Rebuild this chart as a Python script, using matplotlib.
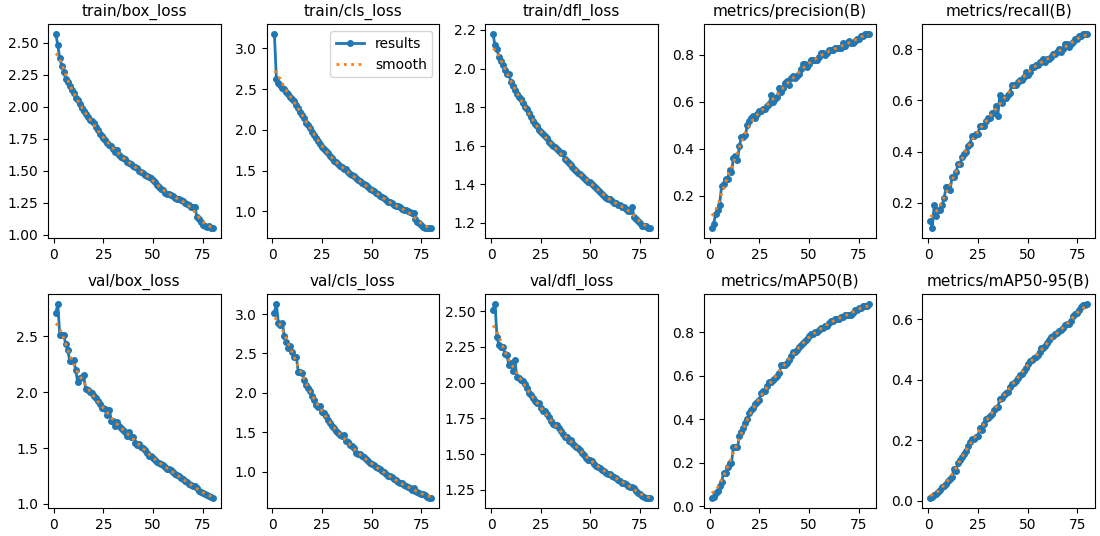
import numpy as np
import matplotlib
matplotlib.use("Agg")
import matplotlib.pyplot as plt

epochs = list(range(1, 81))

train_box_loss = [2.57, 2.48, 2.38, 2.32, 2.27, 2.22, 2.19, 2.16, 2.13, 2.11,
                  2.07, 2.05, 2.02, 1.99, 1.97, 1.94, 1.92, 1.90, 1.89, 1.87,
                  1.84, 1.82, 1.79, 1.77, 1.76, 1.74, 1.72, 1.70, 1.69, 1.67,
                  1.65, 1.66, 1.62, 1.61, 1.60, 1.59, 1.57, 1.56, 1.55, 1.54,
                  1.53, 1.52, 1.50, 1.49, 1.48, 1.47, 1.46, 1.45, 1.44, 1.43,
                  1.41, 1.39, 1.37, 1.36, 1.35, 1.33, 1.32, 1.32, 1.31, 1.30,
                  1.29, 1.28, 1.28, 1.27, 1.26, 1.25, 1.24, 1.23, 1.22, 1.22,
                  1.22, 1.14, 1.12, 1.10, 1.08, 1.07, 1.06, 1.07, 1.05, 1.05]

train_cls_loss = [3.18, 2.62, 2.58, 2.55, 2.52, 2.50, 2.47, 2.44, 2.41, 2.38,
                  2.36, 2.31, 2.27, 2.22, 2.18, 2.14, 2.09, 2.06, 2.02, 1.98,
                  1.94, 1.90, 1.86, 1.83, 1.79, 1.76, 1.74, 1.71, 1.68, 1.65,
                  1.62, 1.60, 1.58, 1.56, 1.54, 1.52, 1.52, 1.48, 1.46, 1.44,
                  1.43, 1.41, 1.39, 1.37, 1.35, 1.34, 1.32, 1.30, 1.27, 1.26,
                  1.25, 1.23, 1.21, 1.19, 1.18, 1.16, 1.14, 1.12, 1.11, 1.10,
                  1.08, 1.06, 1.06, 1.05, 1.03, 1.02, 1.01, 1.00, 0.99, 0.98,
                  0.98, 0.90, 0.87, 0.85, 0.83, 0.81, 0.80, 0.80, 0.79, 0.79]

train_dfl_loss = [2.18, 2.12, 2.10, 2.06, 2.04, 2.02, 1.99, 1.97, 1.97, 1.93,
                  1.91, 1.89, 1.87, 1.85, 1.84, 1.82, 1.80, 1.79, 1.77, 1.75,
                  1.73, 1.71, 1.70, 1.68, 1.67, 1.66, 1.65, 1.64, 1.62, 1.61,
                  1.60, 1.59, 1.58, 1.57, 1.56, 1.56, 1.53, 1.52, 1.51, 1.50,
                  1.49, 1.48, 1.47, 1.46, 1.45, 1.44, 1.43, 1.42, 1.41, 1.41,
                  1.40, 1.39, 1.38, 1.37, 1.36, 1.35, 1.34, 1.33, 1.32, 1.32,
                  1.31, 1.30, 1.30, 1.29, 1.29, 1.28, 1.28, 1.27, 1.26, 1.26,
                  1.28, 1.23, 1.22, 1.21, 1.20, 1.18, 1.18, 1.18, 1.17, 1.17]

precision = [0.06, 0.08, 0.12, 0.14, 0.16, 0.24, 0.25, 0.27, 0.27, 0.31,
             0.30, 0.36, 0.37, 0.35, 0.41, 0.45, 0.45, 0.46, 0.50, 0.52,
             0.53, 0.54, 0.53, 0.55, 0.56, 0.56, 0.57, 0.57, 0.58, 0.59,
             0.63, 0.60, 0.61, 0.62, 0.66, 0.64, 0.66, 0.68, 0.69, 0.67,
             0.70, 0.71, 0.70, 0.71, 0.72, 0.74, 0.76, 0.76, 0.75, 0.76,
             0.78, 0.78, 0.78, 0.78, 0.79, 0.81, 0.81, 0.80, 0.81, 0.82,
             0.82, 0.82, 0.83, 0.83, 0.83, 0.83, 0.85, 0.84, 0.85, 0.86,
             0.85, 0.85, 0.86, 0.87, 0.87, 0.88, 0.88, 0.89, 0.89, 0.89]

recall = [0.13, 0.10, 0.19, 0.15, 0.17, 0.17, 0.19, 0.22, 0.26, 0.26,
          0.25, 0.30, 0.30, 0.32, 0.35, 0.35, 0.38, 0.39, 0.40, 0.42,
          0.43, 0.46, 0.46, 0.47, 0.47, 0.50, 0.50, 0.50, 0.52, 0.53,
          0.53, 0.55, 0.55, 0.58, 0.54, 0.62, 0.59, 0.61, 0.61, 0.62,
          0.63, 0.66, 0.66, 0.66, 0.67, 0.68, 0.68, 0.69, 0.71, 0.70,
          0.71, 0.73, 0.73, 0.74, 0.74, 0.75, 0.75, 0.76, 0.75, 0.76,
          0.76, 0.77, 0.78, 0.78, 0.79, 0.80, 0.79, 0.80, 0.82, 0.82,
          0.81, 0.82, 0.83, 0.84, 0.84, 0.85, 0.85, 0.86, 0.86, 0.86]

val_box_loss = [2.71, 2.79, 2.51, 2.51, 2.51, 2.43, 2.38, 2.28, 2.28, 2.29,
                2.20, 2.09, 2.13, 2.14, 2.15, 2.03, 2.02, 2.00, 1.99, 1.97,
                1.95, 1.92, 1.89, 1.86, 1.86, 1.85, 1.80, 1.84, 1.74, 1.74,
                1.70, 1.73, 1.70, 1.68, 1.66, 1.64, 1.61, 1.64, 1.60, 1.60,
                1.55, 1.53, 1.54, 1.51, 1.50, 1.48, 1.46, 1.43, 1.43, 1.41,
                1.39, 1.38, 1.37, 1.36, 1.35, 1.33, 1.31, 1.31, 1.30, 1.29,
                1.27, 1.26, 1.25, 1.23, 1.22, 1.21, 1.20, 1.18, 1.17, 1.16,
                1.16, 1.14, 1.12, 1.11, 1.10, 1.09, 1.08, 1.07, 1.06, 1.05]

val_cls_loss = [3.02, 3.13, 2.89, 2.86, 2.89, 2.72, 2.65, 2.57, 2.60, 2.52,
                2.45, 2.46, 2.27, 2.27, 2.25, 2.16, 2.10, 2.06, 2.02, 1.96,
                1.91, 1.84, 1.82, 1.83, 1.76, 1.74, 1.70, 1.66, 1.62, 1.58,
                1.55, 1.52, 1.49, 1.47, 1.45, 1.46, 1.39, 1.37, 1.34, 1.32,
                1.30, 1.24, 1.23, 1.22, 1.20, 1.18, 1.16, 1.14, 1.11, 1.10,
                1.08, 1.06, 1.05, 1.03, 1.01, 0.99, 0.97, 0.95, 0.94, 0.93,
                0.91, 0.89, 0.87, 0.86, 0.85, 0.83, 0.82, 0.81, 0.79, 0.77,
                0.79, 0.76, 0.74, 0.73, 0.72, 0.71, 0.70, 0.68, 0.67, 0.66]

val_dfl_loss = [2.51, 2.55, 2.32, 2.26, 2.25, 2.25, 2.20, 2.19, 2.12, 2.14,
                2.08, 2.16, 2.04, 2.03, 2.02, 2.01, 1.99, 1.96, 1.93, 1.91,
                1.89, 1.87, 1.86, 1.86, 1.82, 1.80, 1.80, 1.78, 1.76, 1.73,
                1.71, 1.70, 1.70, 1.68, 1.66, 1.64, 1.62, 1.62, 1.59, 1.60,
                1.58, 1.56, 1.55, 1.54, 1.53, 1.51, 1.49, 1.47, 1.46, 1.46,
                1.45, 1.43, 1.42, 1.41, 1.40, 1.39, 1.38, 1.37, 1.36, 1.36,
                1.35, 1.34, 1.33, 1.32, 1.31, 1.30, 1.30, 1.29, 1.28, 1.27,
                1.27, 1.26, 1.24, 1.23, 1.22, 1.21, 1.20, 1.19, 1.19, 1.19]

map50 = [0.035, 0.04, 0.06, 0.07, 0.09, 0.11, 0.15, 0.15, 0.18, 0.20,
         0.20, 0.27, 0.27, 0.27, 0.32, 0.34, 0.36, 0.38, 0.40, 0.43,
         0.44, 0.45, 0.47, 0.48, 0.49, 0.52, 0.53, 0.53, 0.55, 0.57,
         0.57, 0.58, 0.59, 0.60, 0.61, 0.65, 0.65, 0.65, 0.66, 0.67,
         0.69, 0.71, 0.71, 0.72, 0.73, 0.74, 0.75, 0.76, 0.77, 0.78,
         0.79, 0.79, 0.80, 0.80, 0.81, 0.82, 0.82, 0.83, 0.83, 0.84,
         0.85, 0.85, 0.86, 0.86, 0.86, 0.87, 0.87, 0.88, 0.88, 0.88,
         0.88, 0.89, 0.90, 0.90, 0.91, 0.91, 0.92, 0.92, 0.92, 0.93]

map50_95 = [0.008, 0.012, 0.018, 0.022, 0.028, 0.035, 0.045, 0.050, 0.055, 0.065,
            0.072, 0.080, 0.105, 0.100, 0.125, 0.135, 0.145, 0.155, 0.165, 0.180,
            0.195, 0.205, 0.205, 0.210, 0.215, 0.240, 0.235, 0.255, 0.270, 0.275,
            0.280, 0.285, 0.300, 0.305, 0.310, 0.335, 0.340, 0.350, 0.355, 0.360,
            0.375, 0.385, 0.390, 0.395, 0.405, 0.415, 0.420, 0.430, 0.440, 0.450,
            0.460, 0.465, 0.470, 0.475, 0.480, 0.490, 0.505, 0.505, 0.510, 0.520,
            0.530, 0.540, 0.545, 0.550, 0.555, 0.560, 0.565, 0.570, 0.580, 0.585,
            0.585, 0.595, 0.610, 0.615, 0.620, 0.630, 0.640, 0.645, 0.645, 0.650]

titles = ["train/box_loss", "train/cls_loss", "train/dfl_loss",
          "metrics/precision(B)", "metrics/recall(B)",
          "val/box_loss", "val/cls_loss", "val/dfl_loss",
          "metrics/mAP50(B)", "metrics/mAP50-95(B)"]
series = [train_box_loss, train_cls_loss, train_dfl_loss, precision, recall,
          val_box_loss, val_cls_loss, val_dfl_loss, map50, map50_95]


# same as scipy gaussian_filter1d(y, sigma=3) with reflect mode
def smooth(y, sigma=3):
    r = int(4 * sigma + 0.5)
    k = np.exp(-0.5 * (np.arange(-r, r + 1) / sigma) ** 2)
    k = k / k.sum()
    yp = np.pad(np.asarray(y, dtype=float), r, mode="symmetric")
    return np.convolve(yp, k, mode="valid")


fig, ax = plt.subplots(2, 5, figsize=(11, 5.36), dpi=100)
fig.subplots_adjust(left=0.0436, right=0.9955, top=0.955, bottom=0.052,
                    wspace=0.266, hspace=0.262)
ax = ax.ravel()
for i, (t, y) in enumerate(zip(titles, series)):
    ax[i].plot(epochs, y, marker=".", label="results", linewidth=2, markersize=8)
    ax[i].plot(epochs, smooth(y), ":", label="smooth", linewidth=2)
    ax[i].set_title(t, fontsize=11)
ax[1].legend()

fig.savefig("out.png", dpi=100)
